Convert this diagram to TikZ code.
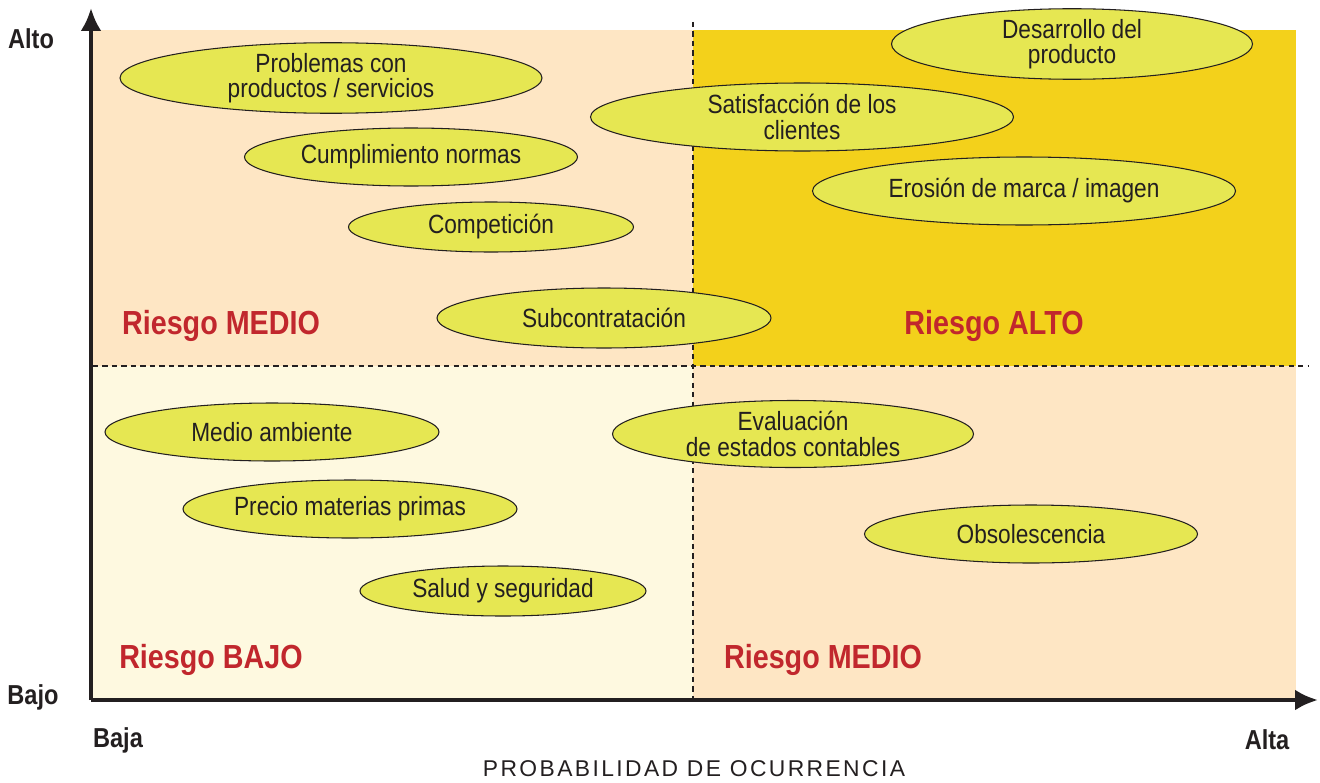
\documentclass[tikz,border=0pt]{standalone}
\usepackage{fontspec}
\setmainfont[FakeStretch=0.86]{Liberation Sans}
\newfontfamily\axisfont[LetterSpace=10.5]{Liberation Sans}
\usepackage{tikz}
\usetikzlibrary{shapes, arrows.meta}
\definecolor{mypeach}{RGB}{254, 230, 196}
\definecolor{mycream}{RGB}{254, 249, 224}
\definecolor{mygold}{RGB}{243, 209, 27}
\definecolor{myleaf}{RGB}{230, 231, 82}
\definecolor{myred}{RGB}{193, 39, 45}
\definecolor{myink}{RGB}{35, 31, 32}
\tikzset{
  risk/.style = {ellipse, draw = myink, line width = 0.6pt, fill = myleaf, inner sep = 0pt,
    align = center, font = \fontsize{15}{14.4}\selectfont, text = myink},
  zone/.style = {text = myred, font = \fontsize{19}{19}\selectfont\bfseries},
  axislabel/.style = {text = myink, font = \fontsize{15.6}{15.6}\selectfont\bfseries},
  divider/.style = {dash pattern = on 3pt off 2.4pt, line width = 0.6pt, myink}
}

\begin{document}
\begin{tikzpicture}[x = 0.2mm, y = -0.2mm]

\useasboundingbox (0, 0) rectangle (1320, 782);

% quadrants
\fill[mypeach] (93, 30) rectangle (693, 366);
\fill[mygold] (693, 30) rectangle (1296, 366);
\fill[mycream] (93, 366) rectangle (693, 698);
\fill[mypeach] (693, 366) rectangle (1296, 698);

\draw[divider] (693, 22) -- (693, 698);
\draw[divider] (93, 366) -- (1308, 366);

% axes
\coordinate (origin) at (91, 700);
\coordinate (ytip) at (91, 8);
\coordinate (xtip) at (1318, 700);
\draw[line width = 2.4pt, myink, -{Latex[length = 4.6mm, width = 4.2mm]}] (origin) -- (ytip);
\draw[line width = 2.4pt, myink, -{Latex[length = 4.6mm, width = 4.2mm]}] (origin) -- (xtip);

\node[axislabel] (alto) at (31, 39) {Alto};
\node[axislabel] (bajo) at (33, 697) {Bajo};
\node[axislabel] (baja) at (118, 740) {Baja};
\node[axislabel] (alta) at (1267, 740) {Alta};
\node[text = myink, font = \fontsize{13}{13}\selectfont\axisfont] (prob) at (694, 769) {PROBABILIDAD DE OCURRENCIA};

% risks
\node[risk, minimum width = 84.4mm, minimum height = 12.8mm] (problemas) at (331, 78) {Problemas con\\productos / servicios};
\node[risk, minimum width = 66.6mm, minimum height = 11.6mm] (normas) at (411, 157) {Cumplimiento normas};
\node[risk, minimum width = 57mm, minimum height = 10mm] (competicion) at (491, 227) {Competición};
\node[risk, minimum width = 66.8mm, minimum height = 12mm] (subcontratacion) at (604, 318) {Subcontratación};
\node[risk, minimum width = 84.6mm, minimum height = 13.6mm] (satisfaccion) at (802, 117) {Satisfacción de los\\clientes};
\node[risk, minimum width = 72.2mm, minimum height = 13.4mm] (desarrollo) at (1072, 44) {Desarrollo del\\producto};
\node[risk, minimum width = 84.6mm, minimum height = 13.6mm] (erosion) at (1024, 191) {Erosión de marca / imagen};
\node[risk, minimum width = 66.8mm, minimum height = 11.6mm] (ambiente) at (272, 432) {Medio ambiente};
\node[risk, minimum width = 66.8mm, minimum height = 11.6mm] (precio) at (350, 509) {Precio materias primas};
\node[risk, minimum width = 57.2mm, minimum height = 10mm] (salud) at (503, 591) {Salud y seguridad};
\node[risk, minimum width = 72.2mm, minimum height = 13.4mm] (evaluacion) at (793, 434) {Evaluación\\de estados contables};
\node[risk, minimum width = 66.6mm, minimum height = 11.6mm] (obsolescencia) at (1031, 534) {Obsolescencia};

% zones
\node[zone] (medioA) at (221, 326) {Riesgo MEDIO};
\node[zone] (altoZ) at (994, 326) {Riesgo ALTO};
\node[zone] (bajoZ) at (211, 660) {Riesgo BAJO};
\node[zone] (medioB) at (823, 660) {Riesgo MEDIO};

\end{tikzpicture}
\end{document}
